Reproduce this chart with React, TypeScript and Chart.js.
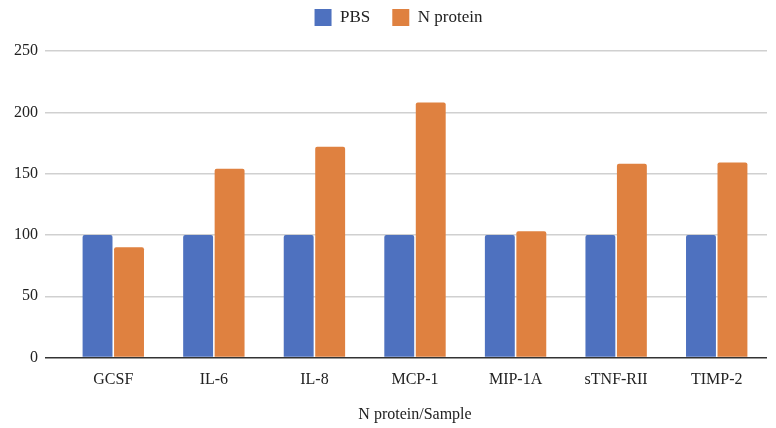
import React, { useEffect, useRef } from "react";
import { Chart, registerables } from "chart.js";

Chart.register(...registerables);

const categories = ["GCSF", "IL-6", "IL-8", "MCP-1", "MIP-1A", "sTNF-RII", "TIMP-2"];
const pbsValues = [100, 100, 100, 100, 100, 100, 100];
const nProteinValues = [90, 154, 172, 208, 103, 158, 159];
const seriesNames = ["PBS", "N protein"];
const yTicks = [0, 50, 100, 150, 200, 250];
const xTitle = "N protein/Sample";

const FONT = "'Liberation Serif', 'Times New Roman', serif";

const legendSpacer = {
  id: "legendSpacer",
  beforeLayout(chart: any) {
    const lg = chart.legend;
    if (lg && !lg.__patched) {
      const origFit = lg.fit.bind(lg);
      lg.fit = function () {
        origFit();
        this.height += 15;
      };
      const origDraw = lg.draw.bind(lg);
      lg.draw = function () {
        const c = chart.ctx;
        c.save();
        c.translate(15, 0);
        origDraw();
        c.restore();
      };
      lg.__patched = true;
    }
  },
};

export default function App() {
  const ref = useRef<HTMLCanvasElement | null>(null);
  useEffect(() => {
    document.body.style.margin = "0";
    const ctx = ref.current!;
    const chart = new Chart(ctx, {
      type: "bar",
      data: {
        labels: categories,
        datasets: [
          {
            label: seriesNames[0],
            data: pbsValues,
            backgroundColor: "#4e71bf",
            borderRadius: { topLeft: 2, topRight: 2, bottomLeft: 0, bottomRight: 0 },
            borderSkipped: "bottom",
            barPercentage: 0.95,
            categoryPercentage: 0.626,
          },
          {
            label: seriesNames[1],
            data: nProteinValues,
            backgroundColor: "#df8140",
            borderRadius: { topLeft: 2, topRight: 2, bottomLeft: 0, bottomRight: 0 },
            borderSkipped: "bottom",
            barPercentage: 0.95,
            categoryPercentage: 0.626,
          },
        ],
      },
      plugins: [legendSpacer],
      options: {
        animation: false,
        responsive: false,
        maintainAspectRatio: false,
        layout: { padding: { left: 0, right: 9, top: -13, bottom: 0 } },
        plugins: {
          tooltip: { enabled: false },
          legend: {
            position: "top",
            align: "center",
            labels: {
              boxWidth: 17,
              boxHeight: 17,
              padding: 22,
              color: "#222",
              font: { family: FONT, size: 17 },
            },
          },
        },
        scales: {
          x: {
            grid: { display: false, drawTicks: false },
            border: { display: false },
            ticks: { color: "#222", font: { family: FONT, size: 16 }, padding: 13, maxRotation: 0 },
            title: {
              display: true,
              text: xTitle,
              color: "#222",
              font: { family: FONT, size: 16 },
              padding: { top: 2, bottom: 4 },
            },
          },
          y: {
            min: 0,
            max: 250,
            afterFit: (scale: any) => {
              scale.width = 63;
            },
            afterBuildTicks: (scale: any) => {
              scale.ticks = yTicks.map((v) => ({ value: v }));
            },
            grid: {
              color: (c: any) => (c.tick && c.tick.value === 0 ? "#333" : "#d0d0d0"),
              lineWidth: 1.5,
              drawTicks: true,
              tickLength: 18,
            },
            border: { display: false },
            ticks: { color: "#222", font: { family: FONT, size: 16 }, padding: 7 },
          },
        },
      },
    });
    return () => chart.destroy();
  }, []);
  return (
    <div style={{ position: "absolute", left: 0, top: 0, width: 776, height: 428, background: "#fff" }}>
      <canvas ref={ref} width={776} height={428} style={{ width: 776, height: 428 }} />
    </div>
  );
}
